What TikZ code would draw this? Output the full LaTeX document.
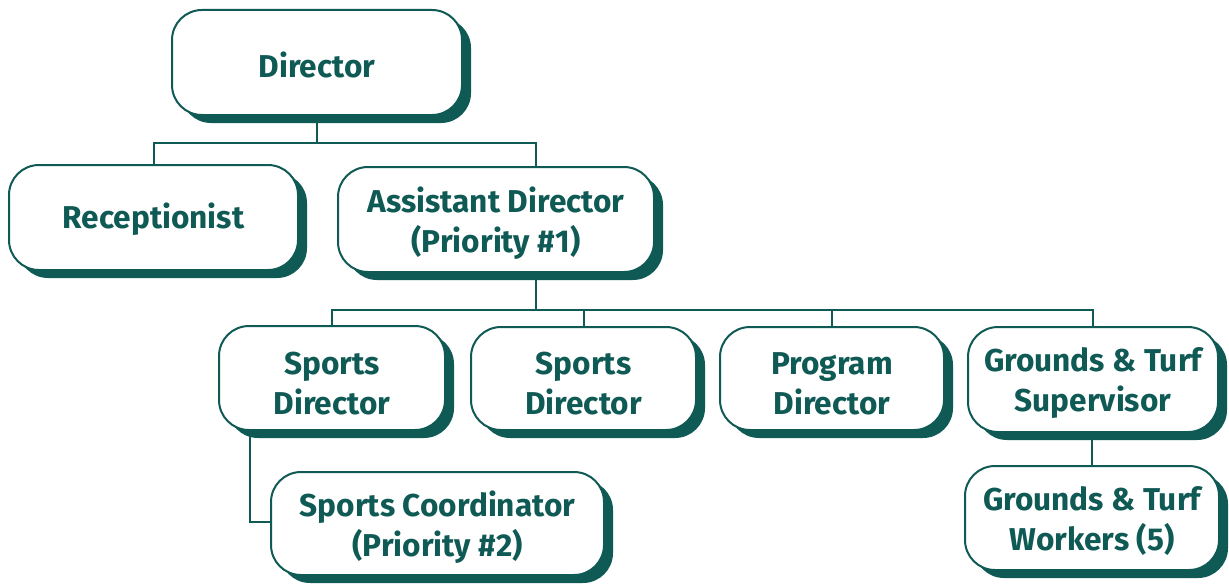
\documentclass[tikz,border=0pt]{standalone}
\usepackage{fontspec}
\setmainfont{Fira Sans}
\usetikzlibrary{shadows}
\definecolor{dkteal}{HTML}{0F5A55}
\newcommand{\lift}{\rule{0pt}{16pt}}
\tikzset{
  box/.style={draw=dkteal, line width=1pt, fill=white, rounded corners=15pt,
    align=center, text=dkteal, font=\bfseries\fontsize{15.8}{20}\selectfont,
    inner sep=0pt, execute at begin node={\rule{0pt}{15pt}},
    drop shadow={shadow xshift=4.5pt, shadow yshift=-4pt, opacity=1, fill=dkteal}},
  twoline/.style={box, execute at begin node={}, text depth=-1pt},
  link/.style={draw=dkteal, line width=1pt}
}
\begin{document}
\begin{tikzpicture}[x=0.5pt,y=-0.5pt]
      \useasboundingbox (0,0) rectangle (1229,583);
      \draw
        (317,62.5) node[box, minimum width=145pt, minimum height=52.5pt] (dir){Director}
        (153.5,217.5) node[box, minimum width=144.5pt, minimum height=52.5pt] (rec){Receptionist}
        (496,219.5) node[twoline, minimum width=158pt, minimum height=52.5pt] (asst){Assistant Director\\(Priority \#1)}
        (332,378) node[twoline, minimum width=113pt, minimum height=52pt] (sd1){\lift Sports\\Director}
        (583.5,378.5) node[twoline, minimum width=112.5pt, minimum height=51.5pt] (sd2){\lift Sports\\Director}
        (832,378.5) node[twoline, minimum width=112pt, minimum height=51.5pt] (prog){\lift Program\\Director}
        (1093,379.5) node[twoline, minimum width=125pt, minimum height=52.5pt] (gts){Grounds \& Turf\\Supervisor}
        (437.5,523.5) node[twoline, minimum width=166.5pt, minimum height=51.5pt] (coord){Sports Coordinator\\(Priority \#2)}
        (1092,518) node[twoline, minimum width=127pt, minimum height=52pt] (gtw){Grounds \& Turf\\Workers (5)};
      \coordinate (j1) at (317,143);
      \coordinate (j2) at (536,310);
      \coordinate (j3) at (250,522);
      \begin{scope}[link]
        \draw (dir.south) -- (j1);
        \draw (j1) -| (rec.north);
        \draw (j1) -| (asst.north -| j2);
        \draw (asst.south -| j2) -- (j2);
        \draw (j2) -| (sd1.north);
        \draw (j2) -| (sd2.north);
        \draw (j2) -| (prog.north);
        \draw (j2) -| (gts.north);
        \draw (gts.south -| gtw.north) -- (gtw.north);
        \draw (sd1.south -| j3) -- (j3) -- (coord.west |- j3);
      \end{scope}
\end{tikzpicture}
\end{document}
